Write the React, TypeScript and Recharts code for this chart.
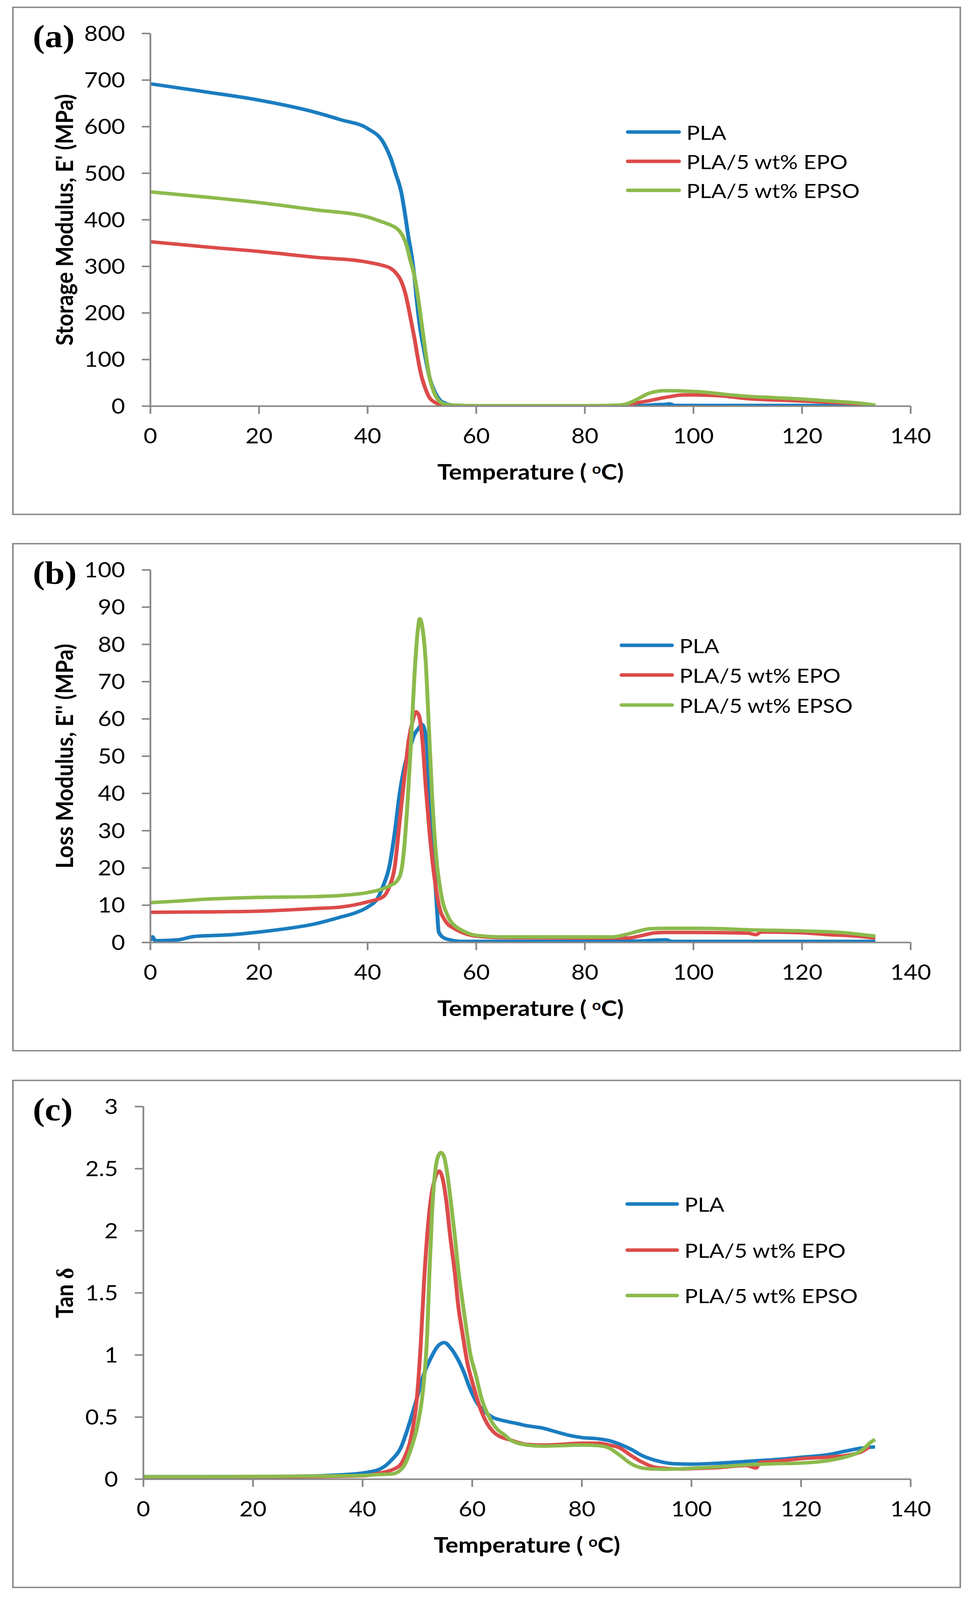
import React from 'react';
import { LineChart, Line, XAxis, YAxis, Legend } from 'recharts';

// ---------- tick labels / names ----------
const X_TICKS = [0, 20, 40, 60, 80, 100, 120, 140];
const A_TICKS = [0, 100, 200, 300, 400, 500, 600, 700, 800];
const B_TICKS = [0, 10, 20, 30, 40, 50, 60, 70, 80, 90, 100];
const C_TICKS = [0, 0.5, 1, 1.5, 2, 2.5, 3];
const SERIES_NAMES = ['PLA', 'PLA/5 wt% EPO', 'PLA/5 wt% EPSO'];
const COLORS = ['#1A7DC0', '#DC4B4A', '#8CBA4C'];

// ---------- (a) Storage modulus ----------
const aPlaT = [0, 10, 20, 30, 35, 40, 43, 44.2, 45.2, 46.2, 46.9, 47.5, 48.1, 48.6, 49.0, 49.6, 50.5, 51.4, 52.4, 53.4, 54.3, 55.6, 58, 65, 80, 90, 93, 95, 95.6, 96.5, 100, 110, 120, 130, 133.5];
const aPlaE = [692, 675, 657, 632, 615, 596, 564, 534, 498, 459, 411, 364, 324, 280, 232, 173, 113, 62, 30, 12, 6, 2, 1, 0.5, 0.5, 1, 3, 4, 5, 1.5, 1.5, 1.5, 1.5, 1, 0.5];
const aEpoT = [0, 10, 20, 30, 40, 42.8, 44.2, 45.2, 46.2, 46.9, 47.5, 48.1, 48.7, 49.2, 49.8, 50.5, 51.4, 52.4, 53.6, 55, 60, 80, 85, 88, 90, 92, 94, 96, 98, 100, 105, 110, 115, 120, 125, 130, 133.5];
const aEpoE = [353, 342, 332, 320, 309, 302, 296, 286, 268, 244, 213, 177, 141, 106, 70, 42, 18, 8, 2, 1, 0.5, 0.5, 1, 4, 8, 12, 17, 21, 24, 24, 22, 16, 13, 11, 8, 5, 1];
const aEpsoT = [0, 10, 20, 30, 40, 42.8, 44.2, 45.4, 46.4, 47.1, 47.8, 48.6, 49.3, 50.0, 50.7, 51.4, 52.2, 53.1, 54.3, 56, 60, 80, 86, 87, 88, 89, 90, 91.5, 93, 94.5, 96, 99, 102, 106, 110, 115, 120, 125, 130, 133.5];
const aEpsoE = [460, 449, 437, 422, 406, 395, 389, 381, 367, 348, 316, 280, 232, 173, 113, 62, 30, 12, 4, 2, 1, 1, 2, 3, 6, 11, 17, 26, 31, 33, 33, 32, 30, 25, 21, 18, 15, 11, 7, 2];

// ---------- (b) Loss modulus ----------
const bPlaT = [0, 0.4, 0.8, 1.5, 5, 8, 15, 20, 25, 30, 35, 38, 40, 42, 42.8, 44, 45, 45.9, 46.9, 47.8, 48.6, 49.3, 50.0, 50.5, 51.0, 51.4, 51.9, 52.4, 52.8, 53.1, 54.1, 55.5, 57.2, 60, 80, 90, 95, 96, 100, 133.5];
const bPlaE = [0.5, 1.5, 0.6, 0.5, 0.7, 1.6, 2.1, 2.8, 3.7, 4.9, 6.8, 8.1, 9.5, 12.3, 15, 20.4, 29.6, 40, 47.9, 52.2, 55.8, 57.3, 58.5, 57, 51, 38.7, 26.5, 17.4, 8.2, 2.8, 1.2, 0.6, 0.3, 0.3, 0.3, 0.4, 0.7, 0.3, 0.3, 0.3];
const bEpoT = [0, 10, 20, 30, 35, 40, 42.8, 44.0, 45.0, 45.9, 46.9, 47.6, 48.3, 48.9, 49.5, 50.1, 50.7, 51.4, 52.2, 53.1, 54.3, 56.0, 57.2, 60, 65, 85, 88, 90, 93, 95, 100, 110, 111.5, 112.5, 120, 125, 130, 133.5];
const bEpoE = [8.1, 8.2, 8.4, 9.1, 9.5, 10.9, 12.2, 15.0, 20.4, 32.6, 46, 54.6, 59.5, 61.9, 60.7, 54, 41.8, 29.6, 18.6, 10.1, 5.8, 3.7, 2.8, 1.7, 1.3, 1.2, 1.2, 1.7, 2.6, 2.7, 2.7, 2.5, 2.1, 2.8, 2.6, 2.1, 1.7, 1.2];
const bEpsoT = [0, 5, 10, 15, 20, 30, 35, 40, 42.8, 44.2, 45.4, 46.2, 46.8, 47.4, 48.0, 48.6, 49.2, 49.6, 50.1, 50.7, 51.3, 51.9, 52.6, 53.6, 54.8, 56.2, 57.2, 60, 65, 85, 88, 90, 92, 95, 100, 105, 110, 120, 128, 131, 133.5];
const bEpsoE = [10.7, 11.1, 11.6, 11.9, 12.1, 12.3, 12.6, 13.4, 14.4, 15.3, 16.5, 19.2, 26.5, 38.7, 54, 71, 83.2, 86.9, 84.4, 75.3, 57, 38.7, 23.5, 12.5, 7, 4.3, 3.4, 1.9, 1.5, 1.5, 2.3, 3.1, 3.7, 3.8, 3.8, 3.7, 3.4, 3.1, 2.6, 2.1, 1.7];

// ---------- (c) Tan delta ----------
const cPlaT = [0, 10, 20, 30, 35, 40, 43, 45.35, 47.0, 48.4, 49.9, 51.05, 52.5, 53.7, 54.9, 56.0, 57.2, 58.4, 59.6, 60.8, 62.0, 63.65, 65.8, 68, 70, 73, 75, 78, 80, 83, 85, 87, 89, 91, 93, 95, 97, 100, 105, 110, 115, 120, 125, 128, 131, 133.5];
const cPlaV = [0.02, 0.02, 0.02, 0.025, 0.033, 0.05, 0.078, 0.157, 0.256, 0.43, 0.65, 0.83, 0.98, 1.07, 1.10, 1.06, 0.98, 0.87, 0.73, 0.62, 0.555, 0.50, 0.47, 0.45, 0.43, 0.41, 0.385, 0.35, 0.335, 0.325, 0.31, 0.28, 0.24, 0.19, 0.157, 0.135, 0.124, 0.121, 0.129, 0.143, 0.157, 0.176, 0.198, 0.225, 0.25, 0.26];
const cEpoT = [0, 10, 20, 30, 40, 43, 46.5, 47.7, 48.9, 49.9, 50.6, 51.2, 51.8, 52.5, 53.2, 54.0, 54.6, 55.3, 56.0, 56.8, 57.5, 58.2, 59.1, 60.1, 61.3, 62.7, 63.9, 65.8, 67, 70, 73, 76, 80, 83, 85, 87, 89, 91, 93, 95, 98, 100, 105, 110, 111.8, 112.5, 115, 120, 125, 128, 131, 132.5];
const cEpoV = [0.015, 0.015, 0.018, 0.02, 0.027, 0.048, 0.10, 0.18, 0.35, 0.65, 1.08, 1.58, 1.97, 2.27, 2.42, 2.48, 2.42, 2.23, 1.95, 1.67, 1.38, 1.18, 0.94, 0.77, 0.59, 0.45, 0.38, 0.33, 0.315, 0.28, 0.275, 0.28, 0.29, 0.29, 0.275, 0.25, 0.19, 0.137, 0.10, 0.088, 0.082, 0.085, 0.093, 0.11, 0.09, 0.135, 0.143, 0.165, 0.178, 0.19, 0.22, 0.26];
const cEpsoT = [0, 10, 20, 30, 40, 43, 45.35, 46.5, 47.7, 48.9, 50.1, 51.05, 51.8, 52.2, 52.7, 53.2, 53.7, 54.3, 54.9, 55.45, 56.0, 56.8, 57.5, 58.2, 58.9, 59.6, 60.6, 61.7, 63.2, 64.6, 65.8, 67, 70, 73, 76, 80, 83, 85, 87, 89, 91, 93, 95, 100, 105, 110, 115, 120, 125, 128, 130, 131.5, 132.5, 133.5];
const cEpsoV = [0.02, 0.02, 0.022, 0.025, 0.03, 0.038, 0.042, 0.059, 0.118, 0.256, 0.45, 0.73, 1.18, 1.67, 2.17, 2.46, 2.59, 2.63, 2.59, 2.46, 2.27, 1.97, 1.67, 1.44, 1.22, 1.02, 0.85, 0.65, 0.49, 0.40, 0.36, 0.315, 0.275, 0.266, 0.27, 0.275, 0.27, 0.25, 0.19, 0.124, 0.09, 0.082, 0.08, 0.088, 0.10, 0.115, 0.124, 0.13, 0.15, 0.178, 0.206, 0.247, 0.29, 0.32];

const pts = (t: number[], v: number[]) => t.map((x, i) => ({ t: x, v: v[i] }));

const AXIS_STYLE = { stroke: '#898989', strokeWidth: 4.5 };
const TICK_STYLE = { fill: '#000', fontSize: 60, fontFamily: 'Lato' };
const W = 2488;
const H = 1452;
const PAGE_H = 4582;
const PLOT_TOP = 75;
const X_AXIS_H = 310;
const PLOT_RIGHT = 2331;

type PanelProps = {
  top: number;
  yAxisWidth: number;
  ticks: number[];
  yTitle: React.ReactNode;
  tag: string;
  series: { t: number; v: number }[][];
  legendRows: number[];
  legendX1: number;
  legendX2: number;
  legendTX: number;
};

function Panel(p: PanelProps) {
  const plotH = H - X_AXIS_H - PLOT_TOP;
  const cy = PLOT_TOP + plotH / 2;
  const cx = (p.yAxisWidth + PLOT_RIGHT) / 2;
  const xTitleY = H - X_AXIS_H + 211;

  const yLabel = () => (
    <g>
      <text
        transform={`translate(187, ${cy}) rotate(-90)`}
        textAnchor="middle"
        fontFamily="Lato"
        fontWeight="bold"
        fontSize={62}
        fill="#000"
      >
        {p.yTitle}
      </text>
      <text x={84} y={114} fontFamily="Liberation Serif" fontWeight="bold" fontSize={92} fill="#000">
        {p.tag}
      </text>
    </g>
  );

  const xLabel = () => (
    <text x={cx} y={xTitleY} textAnchor="middle" fontFamily="Lato" fontWeight="bold" fontSize={62} fill="#000">
      Temperature (
      <tspan dx={14} dy={-17} fontSize={40}>o</tspan>
      <tspan dy={17}>C)</tspan>
    </text>
  );

  const legendContent = (props: any) => {
    const payload = props.payload || [];
    const len = p.legendX2 - p.legendX1;
    return (
      <div style={{ position: 'relative' }}>
        {payload.map((it: any, i: number) => {
          const idx = Math.max(0, SERIES_NAMES.indexOf(it.value));
          const ry = p.legendRows[idx];
          return (
            <div key={i}>
              <svg
                style={{ position: 'absolute', left: p.legendX1, top: ry - 8 }}
                width={len}
                height={16}
              >
                <line x1={5} y1={8} x2={len - 5} y2={8} stroke={it.color} strokeWidth={10} strokeLinecap="round" />
              </svg>
              <span
                style={{
                  position: 'absolute',
                  left: p.legendTX,
                  top: ry - 40,
                  lineHeight: '80px',
                  fontSize: 57,
                  fontFamily: 'Lato',
                  color: '#000',
                  whiteSpace: 'nowrap',
                }}
              >
                {it.value}
              </span>
            </div>
          );
        })}
      </div>
    );
  };

  return (
    <>
      <div
        style={{
          position: 'absolute',
          left: 31,
          top: p.top - 2,
          width: 2429,
          height: H + 4,
          border: '4px solid #898989',
          boxSizing: 'border-box',
        }}
      />
      <div style={{ position: 'absolute', left: 0, top: p.top, width: W, height: H }}>
        <LineChart width={W} height={H} margin={{ top: PLOT_TOP, right: W - PLOT_RIGHT, bottom: 0, left: 0 }}>
          <XAxis
            type="number"
            dataKey="t"
            domain={[0, 140]}
            ticks={X_TICKS}
            interval={0}
            allowDataOverflow
            height={X_AXIS_H}
            tickSize={22}
            tickMargin={42}
            axisLine={AXIS_STYLE}
            tickLine={AXIS_STYLE}
            tick={TICK_STYLE}
            label={xLabel}
          />
          <YAxis
            type="number"
            domain={[p.ticks[0], p.ticks[p.ticks.length - 1]]}
            ticks={p.ticks}
            interval={0}
            allowDataOverflow
            width={p.yAxisWidth}
            tickSize={22}
            tickMargin={43}
            axisLine={AXIS_STYLE}
            tickLine={AXIS_STYLE}
            tick={TICK_STYLE}
            label={yLabel}
          />
          <Legend
            content={legendContent}
            wrapperStyle={{ position: 'absolute', left: 0, top: 0, width: 0, height: 0, overflow: 'visible' }}
          />
          {p.series.map((d, i) => (
            <Line
              key={SERIES_NAMES[i]}
              data={d}
              dataKey="v"
              name={SERIES_NAMES[i]}
              type="monotone"
              stroke={COLORS[i]}
              strokeWidth={10}
              dot={false}
              activeDot={false}
              isAnimationActive={false}
            />
          ))}
        </LineChart>
      </div>
    </>
  );
}

export default function App() {
  // If the visible page is shorter than the intended 4582 px, fit the figure into it
  const vh = typeof window !== 'undefined' ? window.innerHeight : PAGE_H;
  const sy = vh > 1000 && vh < PAGE_H ? vh / PAGE_H : 1;
  return (
    <div
      style={{
        position: 'absolute',
        left: 0,
        top: 0,
        width: W,
        height: PAGE_H,
        background: '#fff',
        transform: sy < 1 ? `scale(1, ${sy})` : undefined,
        transformOrigin: '0 0',
      }}
    >
      <Panel
        top={21}
        yAxisWidth={385}
        ticks={A_TICKS}
        yTitle={"Storage Modulus, E' (MPa)"}
        tag="(a)"
        series={[pts(aPlaT, aPlaE), pts(aEpoT, aEpoE), pts(aEpsoT, aEpsoE)]}
        legendRows={[357, 441, 524]}
        legendX1={1602}
        legendX2={1743}
        legendTX={1757}
      />
      <Panel
        top={1557}
        yAxisWidth={385}
        ticks={B_TICKS}
        yTitle={"Loss Modulus, E'' (MPa)"}
        tag="(b)"
        series={[pts(bPlaT, bPlaE), pts(bEpoT, bEpoE), pts(bEpsoT, bEpsoE)]}
        legendRows={[291, 376, 462]}
        legendX1={1586}
        legendX2={1725}
        legendTX={1739}
      />
      <Panel
        top={3094}
        yAxisWidth={367}
        ticks={C_TICKS}
        yTitle={
          <>
            Tan <tspan fontFamily="Liberation Serif">δ</tspan>
          </>
        }
        tag="(c)"
        series={[pts(cPlaT, cPlaV), pts(cEpoT, cEpoV), pts(cEpsoT, cEpsoV)]}
        legendRows={[354, 486, 616]}
        legendX1={1601}
        legendX2={1738}
        legendTX={1752}
      />
    </div>
  );
}
